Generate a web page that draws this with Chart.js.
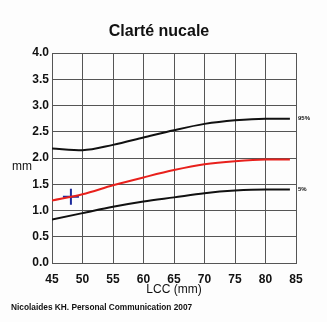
<!DOCTYPE html>
<html>
<head>
<meta charset="utf-8">
<script src="https://cdn.jsdelivr.net/npm/chart.js@4/dist/chart.umd.min.js"></script>
<style>
  html, body { margin: 0; padding: 0; background: #fdfdfd; }
  #wrap { width: 327px; height: 322px; }
</style>
</head>
<body>
<div id="wrap"><canvas id="c" width="327" height="322"></canvas></div>
<script>
// LCC (crown-rump length, mm) sample points along the reference curves
const lcc = [45, 50, 55, 60, 65, 70, 75, 80, 84];
// Nuchal translucency percentiles (mm)
const p95 = [2.18, 2.15, 2.25, 2.39, 2.53, 2.65, 2.72, 2.75, 2.75];
const p50 = [1.19, 1.31, 1.48, 1.63, 1.77, 1.88, 1.94, 1.97, 1.97];
const p5  = [0.83, 0.95, 1.07, 1.17, 1.25, 1.33, 1.38, 1.40, 1.40];
// Measured patient value
const patient = [{ x: 48.1, y: 1.26 }];

const xTicks = [45, 50, 55, 60, 65, 70, 75, 80, 85];
const yTicks = [0, 0.5, 1, 1.5, 2, 2.5, 3, 3.5, 4];

const FONT = "'Liberation Sans', Arial, Helvetica, sans-serif";
const pts = ys => lcc.map((x, i) => ({ x, y: ys[i] }));

const curve = (label, ys, color) => ({
  label, data: pts(ys), showLine: true, borderColor: color, borderWidth: 2,
  pointRadius: 0, cubicInterpolationMode: 'monotone', fill: false
});

const decorations = {
  id: 'decorations',
  afterDraw(chart) {
    const { ctx, chartArea, scales } = chart;
    ctx.save();
    ctx.fillStyle = '#111';
    ctx.textBaseline = 'middle';
    // title
    ctx.font = 'bold 16px ' + FONT;
    ctx.textAlign = 'center';
    ctx.fillText('Clarté nucale', 159, 32);
    // y-axis unit
    ctx.font = '12px ' + FONT;
    ctx.textAlign = 'left';
    ctx.fillText('mm', 12, 167);
    // x-axis title
    ctx.textAlign = 'center';
    ctx.fillText('LCC (mm)', (chartArea.left + chartArea.right) / 2, 290);
    // source
    ctx.font = 'bold 8.3px ' + FONT;
    ctx.textAlign = 'left';
    ctx.fillText('Nicolaides KH. Personal Communication 2007', 11, 308);
    // percentile tags at curve ends
    ctx.font = 'bold 6px ' + FONT;
    const last = lcc.length - 1;
    ctx.fillText('95%', chartArea.right + 2, scales.y.getPixelForValue(p95[last]));
    ctx.fillText('5%', chartArea.right + 2, scales.y.getPixelForValue(p5[last]));
    ctx.restore();
  }
};

new Chart(document.getElementById('c'), {
  type: 'scatter',
  data: {
    datasets: [
      curve('95%', p95, '#111111'),
      curve('50%', p50, '#e8201c'),
      curve('5%', p5, '#111111'),
      {
        label: 'patient', data: patient, pointStyle: 'cross', pointRadius: 8,
        borderColor: '#1c2a9c', borderWidth: 2, showLine: false
      }
    ]
  },
  plugins: [decorations],
  options: {
    responsive: false,
    animation: false,
    layout: { padding: { top: 53, right: 31, left: 0, bottom: 0 } },
    plugins: { legend: { display: false }, tooltip: { enabled: false } },
    scales: {
      x: {
        type: 'linear', min: 45, max: 85,
        afterBuildTicks: s => { s.ticks = xTicks.map(v => ({ value: v })); },
        afterFit: s => { s.height = 59; },
        grid: { color: '#555', lineWidth: 1, drawTicks: false },
        border: { color: '#555', width: 1 },
        ticks: { padding: 9, color: '#111', font: { family: FONT, size: 12, weight: 'bold' } }
      },
      y: {
        type: 'linear', min: 0, max: 4,
        afterBuildTicks: s => { s.ticks = yTicks.map(v => ({ value: v })); },
        afterFit: s => { s.width = 52; },
        grid: { color: '#555', lineWidth: 1, drawTicks: false },
        border: { color: '#555', width: 1 },
        ticks: { padding: 3, color: '#111', font: { family: FONT, size: 12, weight: 'bold' },
                 callback: v => Number(v).toFixed(1) }
      }
    }
  }
});
</script>
</body>
</html>
